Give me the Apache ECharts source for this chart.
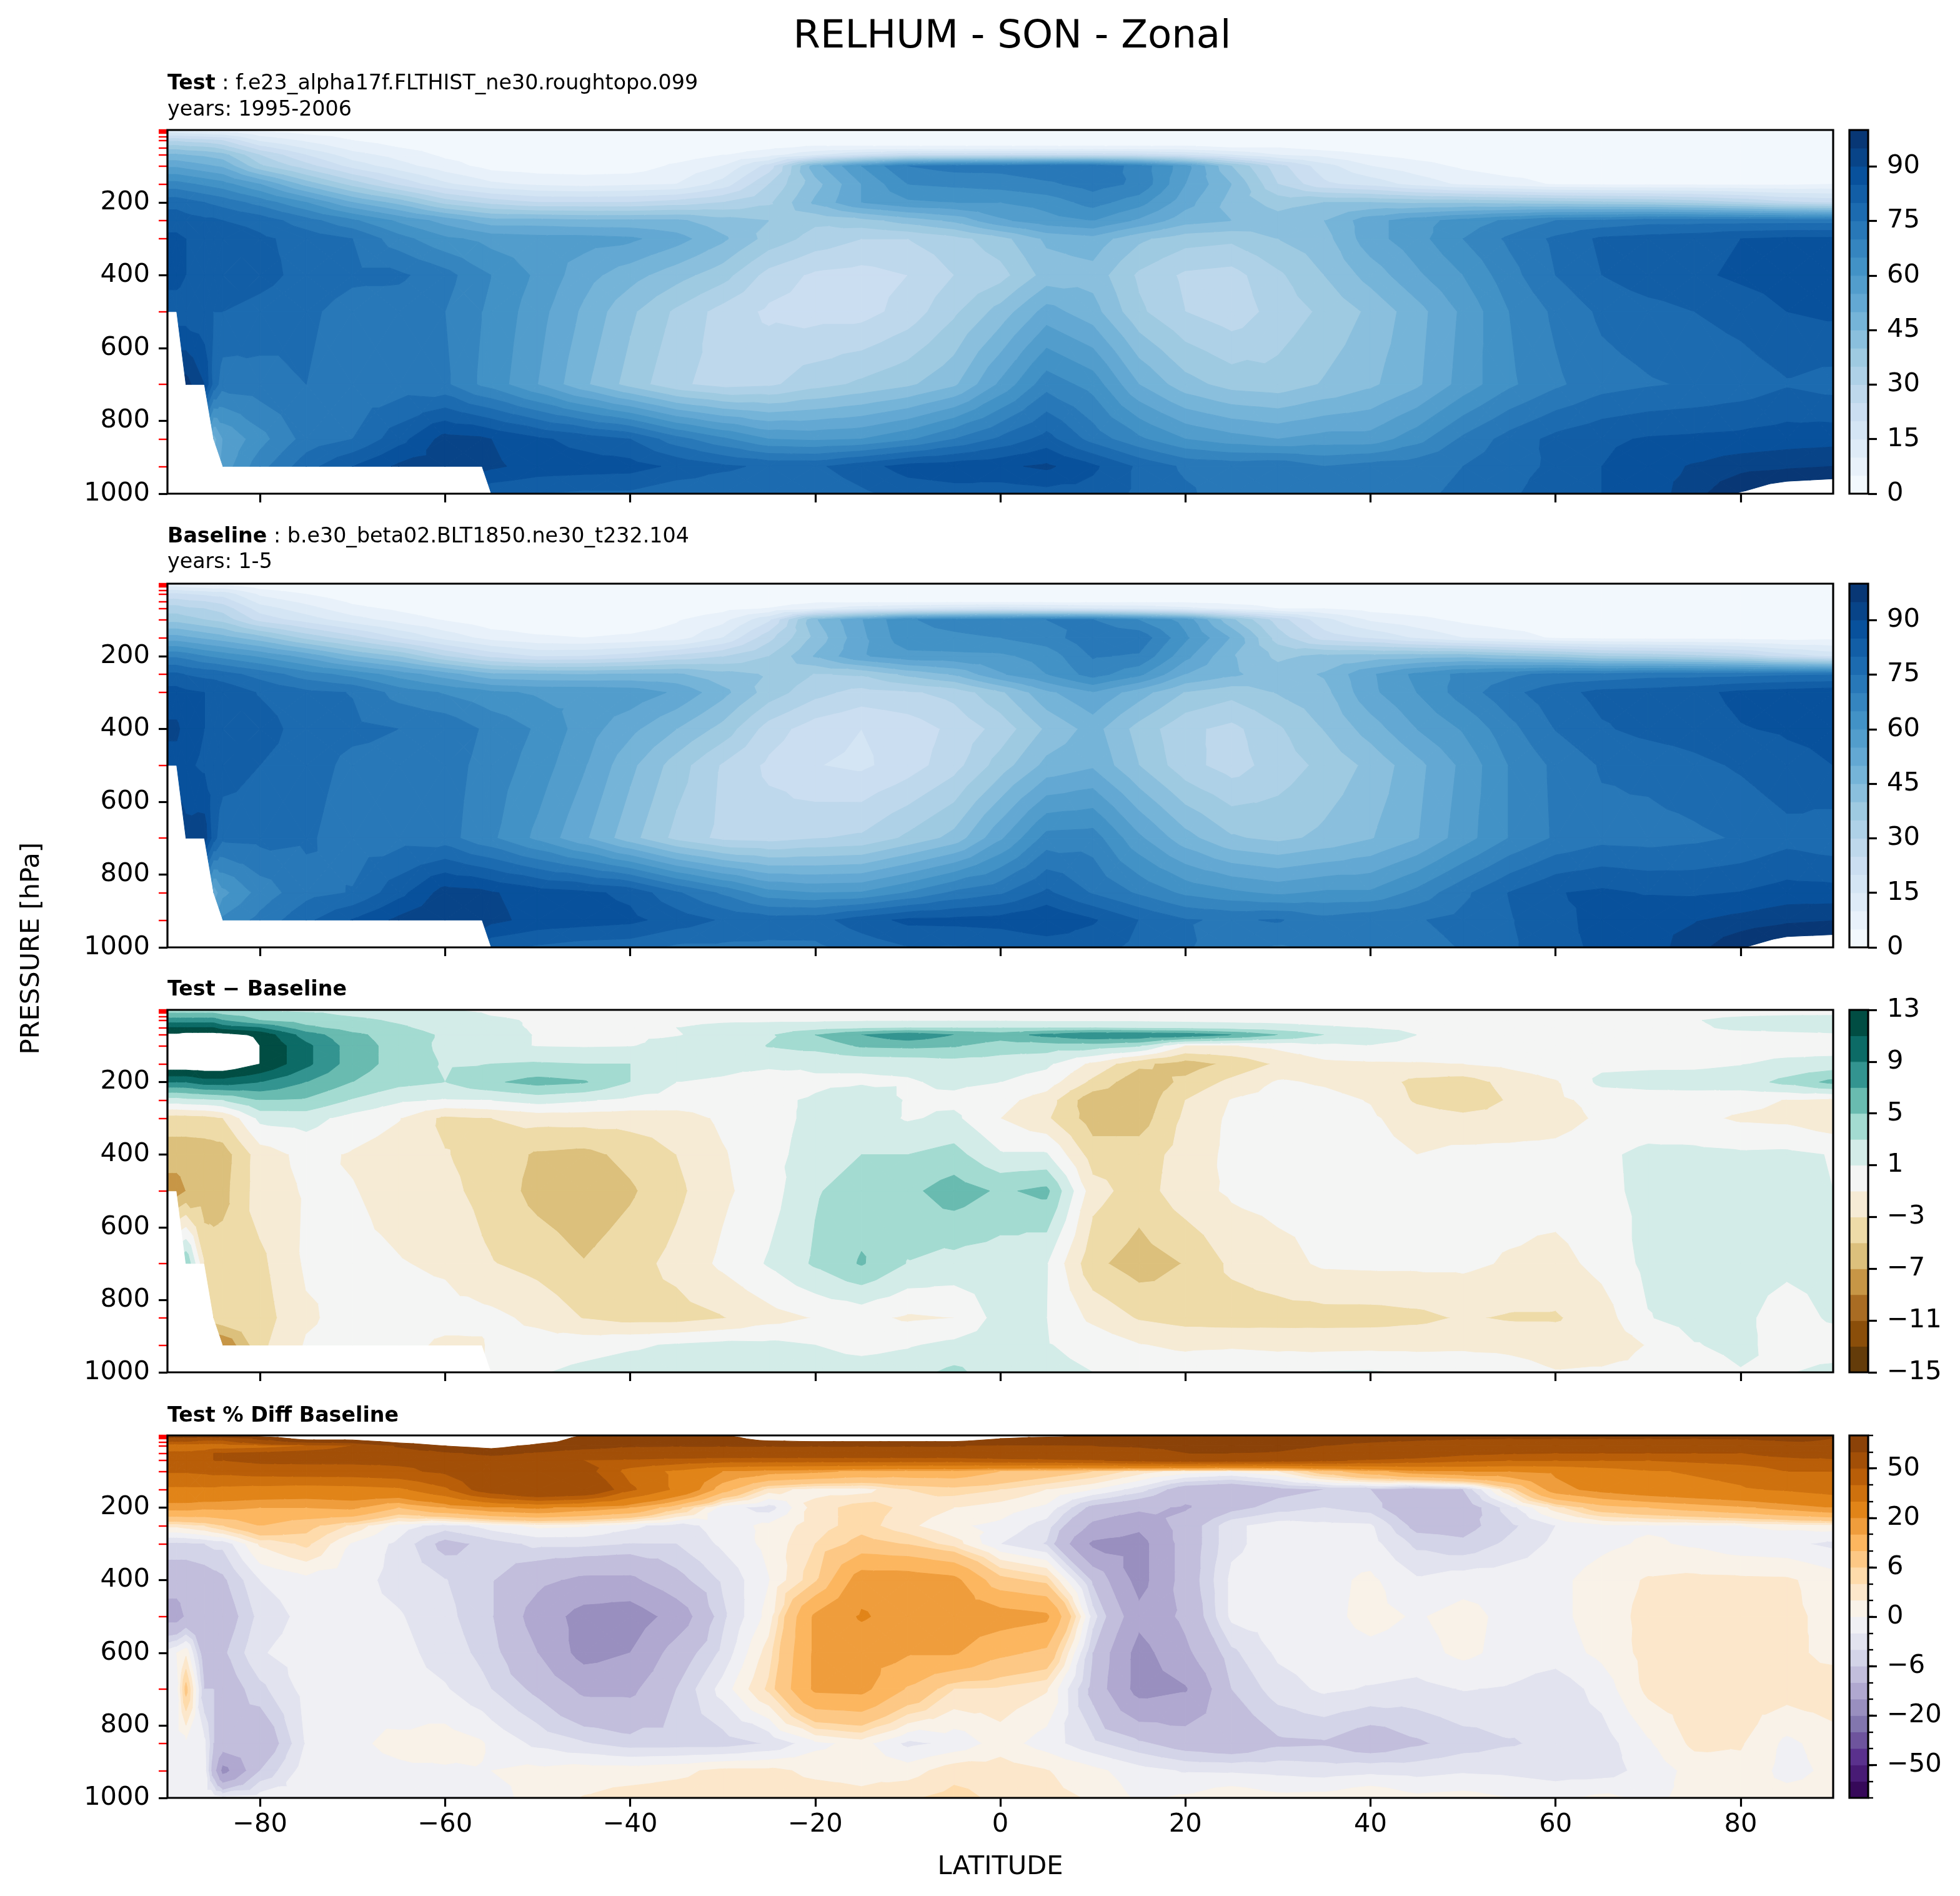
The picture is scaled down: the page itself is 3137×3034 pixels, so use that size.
<!DOCTYPE html>
<html><head><meta charset="utf-8">
<style>html,body{margin:0;padding:0;background:#fff}#c{width:3137px;height:3034px}</style>
<script src="https://cdn.jsdelivr.net/npm/echarts@6/dist/echarts.min.js"></script>
</head><body><div id="c"></div>
<script>
const n = null;
const lats = [-90,-89,-88,-86,-85,-84, -80,-75,-70,-65,-60,-56,-55, -50,-45,-40,-35,-30,-25,-20,-15,-10,-5,0, 5,10,15,20,25,30,35,40,45,50, 55,60,65,70,75,80,85,90];
const levels = [1,10,30,50,70,100,150,200,250,300,400,500,700,850,925,1000];
const pctPressures = [1,10,30,50,70,100,150,200,250,300,400,500,600,700,850,925,1000];
const redTicks = [1,2,3,5,7,10,20,30,50,70,100,150,250,300,500,700,850,925];
const latTicks = [-80,-60,-40,-20,0,20,40,60,80];
const pressureTicks = [200,400,600,800,1000];

const testRH = [
[6,6,6,5,5,5, 3,2,2,2,2,2,2, 2,2,2,2,2,2,2,2,2,2,2, 2,2,2,2,2,2,2,2,2,2, 2,2,2,2,2,2,2,2],
[15,15,14,13,12,12, 7,4,3,2,2,2,2, 2,2,2,2,2,2,2,2,2,2,2, 2,2,2,2,2,2,2,2,2,2, 2,2,2,2,2,2,2,2],
[29,29,28,27,26,25, 14,9,5,3,2,2,2, 2,2,2,2,2,2,2,2,2,2,2, 2,2,2,2,2,2,2,2,2,2, 2,2,2,2,2,2,2,2],
[38,38,37,36,35,33, 22,14,8,5,3,2,2, 2,2,2,2,2.5,4,6,6,6,6,6, 6,6,6,6,5,5,3,2,2,2, 2,2,2,2,2,2,2,2],
[46,46,45,44,43,42, 30,20,12,8,4,3,2, 1.5,1.5,1.5,2,5,8,14,20,24,24,24, 24,24,23,20,15,10,8,5,3,2, 2,2,2,2,2,2,2,2],
[54,54,53,51,50,49, 36,27,18,12,7,4,3, 2,2,2,6,10,22,48,60,70,72,72, 74,74,68,57,40,27,17,10,7,4, 2,2,2,2,2,2,2,2],
[67,67,66,64,63,62, 55,43,33,24,16,12,11, 9,8,9,10,17,30,43,55,65,66,67, 69,72,69,55,45,30,21,18,13,9, 7,4.5,4,4,4,4,4,5],
[78,78,77,75,74,73, 68,60,50,43,33,29,28, 25,25,25,27,30,34,46,55,59,60,60, 62,67,62,52,43,38,40,40,39,39, 38,37,36,35,33,30,26,24],
[83,83,82,81,81,80, 78,72,66,59,53,48,47, 47,46,46,46,42,40,36,38,42,46,54, 58,60,54,47,45,42,45,53,58,62, 66,70,71,73,73,73,73,73],
[86,86,85,84.5,84,84, 81,78,75,67,61,59,58, 57,57,56,52,46,38,33,30,30,33,38, 46,48,41,37,36,40,43,53,58,65, 71,76,81,82,83,85,86,86],
[87,87,85,84.5,84,84, 82,78,76,76,72,66,65, 59,52,47,42,37,28,24,23,25,30,33, 42,43,34,29,28,34,40,47,54,60, 68,75,80,83,84,86,87,87],
[82,82,82,81,80,80, 78,76,73,72,70,65,64, 57,49,41,34,28,24,23,23,27,34,42, 52,47,36,30,27,32,36,41,48,56, 65,71,76,78,80,82,85,86],
[n,n,97,90,78,72, 73,75,72,72,71,64,63, 55,46,38,31,28,29,33,36,39,44,56, 68,63,50,42,38,37,40.5,44,49,57, 64,69,73,74.5,75.5,77,79.5,78],
[n,n,n,n,48,55, 63,72,75,83,92,91,90, 86,83,80,72,66,60,59,60,64,70,76, 82,73,66,60,57,55,57,57,63,71, 77,81.5,84,85.5,86,86.5,87.5,88],
[n,n,n,n,n,57, 68,78,85,91,92,92,91, 88,87.5,87,84,81,79,79,83,87,88,89, 91,86,79,74,73,74,70,72,73,75, 78,81,85,88,90.5,93,94,95],
[n,n,n,n,n,n, n,n,n,n,n,n,81, 80,79,79,76,76,76,76,79,82,83,82, 83,83,79,76,72,70,72,73,74,76, 79,83,85,87,93,100.5,105,106]
];
const baseRH = [
[2,2,2,1,1,1.5, 1,1,1,1,1,1.5,1.5, 1.7,1.7,1.7,1.7,1.7,1.7,1.7,1.7,1.7,1.7,1.7, 1.7,1.7,1.7,1.7,1.7,1.7,1.7,1.7,1.7,1.7, 1.7,1.7,1.7,1.7,1.7,1.7,1.7,1.7],
[10,10,9,8,7,7.5, 3,1,1,1,1,1,1.2, 1.5,1.7,1.7,1.7,1.7,1.7,1.7,1.7,1.7,1.7,1.7, 1.7,1.7,1.7,1.7,1.7,1.7,1.7,1.7,1.7,1.7, 1.7,1.7,1.7,1.7,1.6,1.5,1.5,1.4],
[21,21,20,19,18,18, 9,5,1.5,1,1,1,1, 1.2,1.5,1.5,1.5,1.3,1.3,1.3,1.2,1.2,1.2,1.2, 1.3,1.3,1.3,1.4,1.5,1.5,1.6,1.7,1.7,1.7, 1.7,1.7,1.7,1.7,1.1,.5,.2,.1],
[27,27,26,25,24,23, 13,8.5,4,1.7,.8,.5,.5, 1.2,1.2,1.2,1,1,2.2,4,3.5,3.2,3.2,3.2, 3.2,3.2,3.5,3.7,3,3.4,1.8,1.1,1.4,1.6, 1.7,1.7,1.7,1.7,1.3,.6,.4,.2],
[32.5,32.5,31,30,29,28, 17.5,12,6.5,4,1.3,1.1,.3, .6,.7,.7,1.1,3.4,5.3,9,13,15.5,17,18, 16.4,15.2,14.2,11.6,8,5,5,3,2,1.4, 1.6,1.7,1.7,1.7,1.7,1.7,1.5,1.3],
[38,38,37,35,34,33, 23,17.5,12,7.8,4.5,2.2,1.4, 1.1,1.2,1.1,4.4,8.2,18.9,44.4,54.7,64.5,66.8,68, 70,70,64.8,58,41.1,27.5,16.5,9.1,6.5,3.7, 1.8,1.8,1.8,1.8,1.8,1.8,1.8,1.8],
[52,52,51,49,48,47, 42,33.5,27,19.8,13.2,9.1,8, 5.8,5,6,7.5,15,28.3,41.5,53.7,63.5,64,65, 67.6,73.5,73.5,61,49.5,32.7,22.5,19.3,14.2,10, 7.5,4.3,3.5,3.4,3.4,3.1,2.6,3.4],
[69,69,68,65,64,63, 59,53,45,39.4,30,24.5,23.3, 19.3,19.8,22,26,29.5,34.9,45.5,54.3,58.2,58.6,59, 62,70.5,69.3,56.5,45.5,38.8,41.2,41.8,42.6,43, 40.3,38.2,34.5,33.3,31.2,28,22.4,18.4],
[81,81,79.7,78.5,78.3,77, 73,67.3,63.2,57.7,52.2,47.1,46, 45.2,44.8,45.5,45.7,41.7,39.5,34.7,35.5,41.2,45.5,54.3, 60,67.2,61.2,50,45.9,42.3,45.5,54.1,61.3,66.4, 68.8,71.4,71.4,73,73,73.3,74.1,74.5],
[87,87,86,85,84,84, 79.5,76.2,74.8,67.9,64.5,62.1,61, 59.3,59.2,58.2,54.1,46.6,37.6,31.6,28,29.2,31.6,39, 48.7,54.5,47.2,39.6,36.6,40.3,43.3,53.7,60,67.4, 73.5,78,81.6,82.2,83.5,86.3,87.5,88.5],
[91,91,88,85,84,84, 83,77,76,75,74,69.6,68.8, 64.3,57.6,51.4,45,38.2,27.6,22.2,20,22,26.3,31.8, 40.8,47,38,31.2,28.5,34.2,40.2,47.3,55,60.5, 68.3,75.2,79.4,81.5,82.5,84.7,85.6,86.1],
[88,88,86,84,83,83, 80,76.8,73.9,73.7,72.5,68.5,67.8, 62.7,55.5,46.3,37.5,29.4,23.9,20.2,19,22.5,28,37.3, 46.5,49.2,40,31.8,27.7,32.3,36.3,41.3,48.3,56.2, 65.2,71.1,75.5,76.5,78.6,80.7,83.5,85],
[n,n,92,93,82,76, 76.5,75.7,72.6,72.9,72.3,66.7,65.9, 58.7,50.9,41.8,33.4,28.6,27.8,29.7,30.8,36.1,41.7,54.1, 66.9,67.5,56,46.9,40.6,38.7,41.2,44.6,49.6,57.6, 65.2,70.7,73.4,73,73.9,75.5,78.2,76.6],
[n,n,n,n,52,58.5, 67,73.3,75.3,83.2,92.3,91.4,90.5, 87.5,86.1,83.8,75.8,69.1,61.8,59.9,60.4,65.3,71,74.2, 81,74.5,69.2,63.8,61,58.9,60.8,60.8,66.5,73.8, 80.2,84.7,86,84.6,84.3,85.2,87.1,86.8],
[n,n,n,n,n,66, 71.5,78.8,85.3,91.3,93.4,93.3,91.4, 88.2,87.3,86.3,82.8,79.4,77.5,78,82.7,86.2,86.5,87.2, 89.9,85.6,79.9,75.4,74.3,75.5,71.7,73.6,74.6,76.5, 79.6,83,87.2,88.9,89.6,91.6,93.7,94.8],
[n,n,n,n,n,n, n,n,n,n,n,n,81.3, 79.2,77.5,77,74,74,74,74,77,79.8,79.5,80.2, 81.5,82,78.7,75.8,71.2,69.5,70.9,71.8,73.3,75.3, 79,83.9,85.7,87.5,92.8,99.6,104.1,104.6]
];
const diffRH = [
[4,4,4,4,4,3.5, 2.5,2,2,1.5,1.2,.6,.5, .3,.3,.3,.3,.3,.3,.3,.3,.3,.3,.3, .3,.3,.3,.3,.3,.3,.3,.3,.3,.3, .3,.3,.3,.3,.3,.3,.3,.3],
[5,5,5,5,5,4.5, 4,3.3,2.5,2,1.5,1,.8, .5,.3,.3,.3,.3,.3,.3,.3,.3,.3,.3, .3,.3,.3,.3,.3,.3,.3,.3,.3,.3, .3,.3,.3,.3,.4,.5,.6,.6],
[8,8,8,8,8,7, 5,4,3.5,2.7,2,1.4,1.3, .8,.5,.5,.5,.7,.7,.7,.8,.8,.8,.8, .7,.7,.7,.6,.5,.5,.4,.3,.3,.3, .3,.3,.3,.3,.9,1.5,1.8,1.9],
[11,11,11,11,11,10, 9,5.5,4,3.3,2.2,1.6,1.5, .8,.8,.8,1,1.5,1.8,2,2.5,2.8,2.8,2.8, 2.8,2.8,2.5,2.3,2,1.6,1.2,.9,.6,.4, .3,.3,.3,.3,.7,1.4,1.6,1.8],
[13.5,13.5,14,14,14,14, 12.5,8,5.5,4,2.7,1.9,1.7, .9,.8,.8,.9,1.6,2.7,5,7,8.5,7,6, 7.6,8.8,8.8,8.4,7,5,3,2,1,.6, .4,.3,.3,.3,.3,.3,.5,.7],
[16,16,16,16,16,16, 13,9.5,6,4.2,2.5,1.8,1.6, .9,.8,.9,1.6,1.8,3.1,3.6,5.3,5.5,5.2,4, 4,4,3.2,-1,-1.1,-.5,.5,.9,.5,.3, .2,.2,.2,.2,.2,.2,.2,.2],
[15,15,15,15,15,15, 13,9.5,6,4.2,2.8,2.9,3, 3.2,3,3,2.5,2,1.7,1.5,1.3,1.5,2,2, 1.4,-1.5,-4.5,-6,-4.5,-2.7,-1.5,-1.3,-1.2,-1, -.5,.2,.5,.6,.6,.9,1.4,1.6],
[9,9,9,10,10,10, 9,7,5,3.6,3,4.5,4.7, 5.7,5.2,3,1,.5,-.9,.5,.7,.8,1.4,1, 0,-3.5,-6.5,-4.5,-2.5,-.8,-1.2,-1.8,-3.6,-4, -2.3,-1.2,1.5,1.7,1.8,2,3.6,5.6],
[2,2,2.3,2.5,2.7,3, 5,4.7,2.8,1.3,.8,.9,1, 1.8,1.2,.5,.3,.3,.5,1.3,2.5,.8,.5,-.3, -2,-6.5,-6.5,-3,-.9,-.3,-.5,-1.1,-3.3,-4.4, -2.8,-1.4,-.4,0,0,-.3,-1.1,-1.5],
[-4,-4,-4,-3.8,-3.5,-3, 1.5,1.8,.2,-.9,-3.5,-3.1,-3, -2.3,-2.2,-2.2,-2.1,-.6,.4,1.4,2,.8,1.4,-1, -2.7,-6,-6,-2.6,-.6,-.3,-.3,-.7,-2,-2.4, -2.5,-2,-.6,-.2,-.5,-1.3,-1.5,-2.5],
[-6,-6,-6,-6,-6,-6, -2,-.4,-1.2,-2,-2.9,-3.6,-3.8, -5.3,-5.6,-4.4,-3,-1.2,.4,1.8,3,3,3.7,1.2, 1.2,-4,-4,-2.2,-.5,-.2,-.2,-.3,-1,-.5, -.3,-.2,.6,1.5,1.5,1.3,1.4,.9],
[-8,-8,-7,-6.6,-6,-5.7, -2,-.8,-.9,-1.7,-2.5,-3.5,-3.8, -5.7,-6.5,-5.3,-3.5,-1.4,.1,2.8,4,4.5,6,4.7, 5.5,-2.2,-4,-1.8,-.7,-.3,-.3,-.3,-.3,-.2, -.2,-.1,.5,1.5,1.4,1.3,1.5,1],
[n,n,5,-3,-4,-4, -3.5,-.7,-.6,-.9,-1.3,-2.7,-2.9, -3.7,-4.9,-3.8,-2.4,-.6,1.2,3.3,5.2,2.9,2.3,1.9, 1.1,-4.5,-6,-4.9,-2.6,-1.7,-.7,-.6,-.6,-.6, -1.2,-1.7,-.4,1.5,1.6,1.5,1.3,1.4],
[n,n,n,n,-4,-3.5, -4,-1.3,-.3,-.2,-.3,-.4,-.5, -1.5,-3.1,-3.8,-3.8,-3.1,-1.8,-.9,-.4,-1.3,-1,1.8, 1,-1.5,-3.2,-3.8,-4,-3.9,-3.8,-3.8,-3.5,-2.8, -3.2,-3.2,-2,.9,1.7,1.3,.4,1.2],
[n,n,n,n,n,-9, -3.5,-.8,-.3,-.3,-1.4,-1.3,-.4, -.2,.2,.7,1.2,1.6,1.5,1,.3,.8,1.5,1.8, 1.1,.4,-.9,-1.4,-1.3,-1.5,-1.7,-1.6,-1.6,-1.5, -1.6,-2,-2.2,-.9,.9,1.4,.3,.2],
[n,n,n,n,n,n, n,n,n,n,n,n,-.3, .8,1.5,2,2,2,2,2,2,2.2,3.5,1.8, 1.5,1,.3,.2,.8,.5,1.1,1.2,.7,.7, 0,-.9,-.7,-.5,.2,.9,.9,1.4]
];
const pctRH = [
[105,105,105,105,105,105, 110,120,130,140,160,170,170, 125,98,98,98,98,115,120,120,120,115,110, 110,98,96,95,95,102,102,102,98,98, 98,98,98,98,98,98,103,106],
[60,60,60,55,55,55, 80,110,110,130,140,150,150, 120,90,90,90,90,110,115,115,115,115,100, 90,88,85,85,85,85,82,80,78,76, 75,75,75,75,75,76,80,75],
[33,33,33,33,33,33, 35,40,50,78,100,108,110, 92,85,77,76,76,76,76,76,76,76,72, 73,75,77,80,80,78,75,70,66,62, 58,55,55,55,55,60,65,74],
[42,42,42,44,50,50, 52,55,57,60,70,80,82, 72,62,60,60,60,60,60,60,60,60,62, 64,64,66,75,75,74,70,64,60,53, 51,50,50,50,50,50,55,60],
[45,45,45,47,50,50, 52,52,52,52,52,58,60, 58,50,48,46,44,44,44,44,44,44,46, 47,49,53,55,55,54,52,48,45,42, 40,40,40,40,42,44,46,47],
[41,41,41,42,43,43, 45,46,46,48,52,59,60, 60,55,36,28,20,17,16,14,13,13,10, 8,6,3,1,0,2,8,13,18,20, 20,21,25,29,31,33,40,40],
[28,28,28,28,28,27, 26,25,26,28,38,55,58, 70,65,42,28,12,3,1,1,4,5,4, 2,0,-3,-8,-9,-7,-6,-6,-8,-6, 4,18,22,25,27,29,31,34],
[17,17,17,16,16,16, 15,15,16,10,15,18,19, 21,18,15,7,-1,-3,3,5,3.5,2,1, -.5,-7,-9,-10.5,-7,-5,-4,-5,-9,-8, -3,3,8,10,12,14,17,20],
[2.5,2.5,3,4,5,6, 10,7,3.5,-1,-3,-1.5,-1, .5,.2,-1.5,-3,-1,.5,3,5,2.5,.3,-.5, -3,-11,-14,-8,-2.5,-1,-1.5,-1.7,-7,-7, -4.5,-2,-.5,-.3,-.3,0,.5,1],
[-4.5,-4.5,-4.5,-4,-3.5,-3.5, 2.3,4.5,-.3,-2.5,-7,-5.5,-5, -3.5,-3.5,-4.1,-4,-1.6,.6,4,7,5.8,3,-2, -4.2,-16,-17,-8,-2.5,-1,-1,-1.2,-4.5,-5.5, -3.5,-1.5,-.5,.3,-.3,-1.2,-1.5,-2.5],
[-8,-8,-8,-7.5,-7,-6.5, -2,-.7,-1.2,-2.7,-3.9,-5.3,-5.8, -9,-11,-11,-7,-3.7,-.1,5.5,18,18,16.5,7, 5,-6.5,-17,-8,-1.5,-.8,-.6,.4,-1.7,-.8, -.7,-.6,1,2.2,2.5,2.4,2.3,1],
[-12,-12,-9.5,-9,-8.5,-8, -3.3,-1.3,-1.3,-1.8,-3.4,-5.2,-5.8, -12,-17,-18,-13,-4.5,.8,16,20.5,18,18,17.5, 16,-3,-13.5,-9,-1.5,-1,-.6,.6,-.2,.7, -.6,-.6,1,2.6,2.8,2.7,2.4,1.5],
[-1,0,1.5,-8,-8,-6.5, -2.2,-1,-.8,-1.3,-2.9,-4.5,-5, -10,-17,-15,-8,-3.5,3,16,17,15.5,15.5,11, 9,-6,-17,-11,-4.5,-1.6,-.8,-.5,-.8,.5, -.7,-1,.5,2.7,2.9,3,2.7,1.2],
[-1.5,-1,7,-6,-6,-8, -4.6,-1.2,-.3,-1.2,-1.8,-3.5,-4, -6.7,-11,-11,-6,-1.2,4.5,16,16.5,9.5,4,3.5, 2.2,-7,-17,-15.5,-6,-3,-1.6,-2.2,-2.6,-1.9, -2.2,-3.3,-1.2,2.5,3,3,3,3.5],
[-2,-1,-.5,-1.5,-6,-7, -9,-1.8,-.3,.4,1,.2,-.5, -2.5,-3.8,-5,-5,-5,-3.8,-.6,.8,-2.5,-1.5,1, -1,-3.5,-5.5,-7.5,-8.5,-6.5,-6.3,-8,-6.4,-5, -4.2,-3.5,-3,-.3,2.5,2.2,-.5,1],
[-1,-1,-1,-1,-8,-17, -6,-.8,-.5,-.3,-.3,-.1,0, .5,1,1,1.5,2.5,2.5,1.5,1.3,1,3.2,3, 2.1,.6,-1.2,-2.2,-2.3,-2.6,-3,-2.6,-2.8,-2.3, -2.5,-3,-3,-1.2,.7,1.4,-.7,.5],
[-1,-1,-1,-1,-1,-1.5, -1,-1,-1,-1,-1,-1,-.8, .8,2.1,2.8,3,3,3,3,2.5,3.7,4.7,3.5, 2.6,1.8,-.4,.3,1.7,.6,.8,2,.5,.8, 0,-.5,.5,-.5,.6,.8,.8,.8]
];

const rhLevels = [0,5,10,15,20,25,30,35,40,45,50,55,60,65,70,75,80,85,90,95,100];
const diffLevels = [-15,-13,-11,-9,-7,-5,-3,-1,1,3,5,7,9,11,13];
const pctLevels = [-100,-75,-50,-40,-30,-20,-15,-10,-6,-4,-2,0,2,4,6,10,15,20,30,40,50,75,100];
const rhTicks = [0,15,30,45,60,75,90];
const diffTicks = [-15,-11,-7,-3,1,5,9,13];
const pctTickLabels = [-50,-20,-6,0,6,20,50];

const bluesRamp = ['#f7fbff','#deebf7','#c6dbef','#9ecae1','#6baed6','#4292c6','#2171b5','#08519c','#08306b'];
const puorRamp = ['#2d004b','#542788','#8073ac','#b2abd2','#d8daeb','#f7f7f7','#fee0b6','#fdb863','#e08214','#b35806','#7f3b08'];
const diffColors = ['#643c0a','#8a4e0a','#a96c23','#c79646','#dcc07c','#eedba8','#f6ebd5','#f4f5f4','#d3ece8','#a3dbd1','#69bbb0','#339490','#0c6b66','#014d43'];

function ramp(list,t){
  const s=t*(list.length-1), i=Math.min(Math.floor(s),list.length-2), f=s-i;
  const a=list[i],b=list[i+1],c=k=>{
    const x=parseInt(a.substr(k,2),16),y=parseInt(b.substr(k,2),16);
    return Math.round(x+(y-x)*f).toString(16).padStart(2,'0');
  };
  return '#'+c(1)+c(3)+c(5);
}
const bandColors=(list,count)=>Array.from({length:count},(_,k)=>ramp(list,(k+.5)/count));
const rhColors=bandColors(bluesRamp,20), pctColors=bandColors(puorRamp,22);

const FONT='DejaVu Sans', TICK=41.6, SUB=33.3, LW=3.2, TL=14;
const panels=[
 {top:208,h:582,table:testRH,press:levels,lv:rhLevels,col:rhColors},
 {top:934,h:582,table:baseRH,press:levels,lv:rhLevels,col:rhColors},
 {top:1616,h:580,table:diffRH,press:levels,lv:diffLevels,col:diffColors},
 {top:2297,h:580,table:pctRH,press:pctPressures,lv:pctLevels,col:pctColors}
];
const minus=v=>String(v).replace('-','\u2212');
const plain=v=>String(v);

// clip polygon [x,y,v] to v>=lim (sign=1) or v<=lim (sign=-1)
function clipPoly(poly,lim,sign){
  const out=[];
  for(let i=0;i<poly.length;i++){
    const a=poly[i],b=poly[(i+1)%poly.length];
    const ina=sign*(a[2]-lim)>=0,inb=sign*(b[2]-lim)>=0;
    if(ina)out.push(a);
    if(ina!==inb){const t=(lim-a[2])/(b[2]-a[2]);out.push([a[0]+(b[0]-a[0])*t,a[1]+(b[1]-a[1])*t,lim]);}
  }
  return out;
}
function cellTriangles(c){ // c: corners tl,tr,br,bl, each [x,y,v] or null
  const ok=c.filter(Boolean);
  if(ok.length<3)return [];
  if(ok.length===3)return [ok];
  const m=[0,1,2].map(k=>(c[0][k]+c[1][k]+c[2][k]+c[3][k])/4);
  return [[c[0],c[1],m],[c[1],c[2],m],[c[2],c[3],m],[c[3],c[0],m]];
}
function contourRender(p){
  return function(params,api){
    const i=api.value(0),j=api.value(1);
    const corner=(a,b)=>{
      const v=p.table[b][a];
      if(v===null)return null;
      const q=api.coord([lats[a],p.press[b]]);
      return [q[0],q[1],v];
    };
    const tris=cellTriangles([corner(i,j),corner(i+1,j),corner(i+1,j+1),corner(i,j+1)]);
    const children=[];
    tris.forEach(tri=>{
      const lo=Math.min(tri[0][2],tri[1][2],tri[2][2]),hi=Math.max(tri[0][2],tri[1][2],tri[2][2]);
      for(let k=0;k<p.col.length;k++){
        if(p.lv[k+1]<lo||p.lv[k]>hi)continue;
        let poly=clipPoly(tri,p.lv[k],1);
        if(poly.length)poly=clipPoly(poly,p.lv[k+1],-1);
        if(poly.length<3)continue;
        children.push({type:'polygon',shape:{points:poly.map(q=>[q[0],q[1]])},
          style:{fill:p.col[k],stroke:p.col[k],lineWidth:1}});
      }
    });
    return {type:'group',children};
  };
}
const frame={type:'custom',data:[[0,0]],z:20,silent:true,clip:false,animation:false,
  renderItem:(params)=>{const s=params.coordSys;return {type:'rect',shape:{x:s.x,y:s.y,width:s.width,height:s.height},
    style:{fill:'none',stroke:'#000',lineWidth:LW}};}};

const noLine={show:false,onZero:false};
const grid=[],xAxis=[],yAxis=[],series=[];
panels.forEach((p,idx)=>{
  const cells=[];
  for(let i=0;i<lats.length-1;i++)for(let j=0;j<p.press.length-1;j++)cells.push([i,j]);
  grid.push({left:268,width:2666,top:p.top,height:p.h});
  const last=idx===3;
  xAxis.push({type:'value',gridIndex:idx,min:-90,max:90,z:5,splitLine:{show:false},
    axisLine:noLine,
    axisTick:{show:true,length:TL,lineStyle:{color:'#000',width:LW},customValues:latTicks},
    axisLabel:{show:last,customValues:latTicks,margin:22,fontFamily:FONT,fontSize:TICK,color:'#000',formatter:minus},
    name:last?'LATITUDE':'',nameLocation:'middle',nameGap:90,nameTextStyle:{fontFamily:FONT,fontSize:TICK,color:'#000'}});
  const yi=yAxis.length;
  yAxis.push({type:'value',gridIndex:idx,inverse:true,min:1,max:1000,z:5,splitLine:{show:false},axisLine:noLine,
    axisTick:{show:true,length:TL,lineStyle:{color:'#000',width:LW},customValues:pressureTicks},
    axisLabel:{show:true,customValues:pressureTicks,margin:28,padding:[18,0,0,0],fontFamily:FONT,fontSize:TICK,color:'#000',formatter:plain}});
  yAxis.push({type:'value',gridIndex:idx,inverse:true,min:1,max:1000,position:'left',z:5,splitLine:{show:false},axisLine:noLine,
    axisLabel:{show:false},
    axisTick:{show:true,length:TL,lineStyle:{color:'#ff0000',width:2.4},customValues:redTicks}});
  series.push({type:'custom',xAxisIndex:idx,yAxisIndex:yi,data:cells,encode:{x:0,y:1},clip:true,silent:true,animation:false,z:2,
    renderItem:contourRender(p)});
  series.push(Object.assign({},frame,{xAxisIndex:idx,yAxisIndex:yi}));
});
const bars=[
 {p:panels[0],min:0,max:100,lv:rhLevels,ticks:rhTicks,fmt:minus,top:208,h:582},
 {p:panels[1],min:0,max:100,lv:rhLevels,ticks:rhTicks,fmt:minus,top:934,h:582},
 {p:panels[2],min:-15,max:13,lv:diffLevels,ticks:diffTicks,fmt:minus,top:1616,h:580},
 {p:panels[3],min:0,max:22,lv:pctLevels.map((_,i)=>i),ticks:pctTickLabels.map(v=>pctLevels.indexOf(v)),fmt:v=>minus(pctLevels[v]),top:2297,h:580,minor:pctLevels.map((_,i)=>i)}
];
bars.forEach((b,c)=>{
  const gi=grid.length;
  grid.push({left:2960,width:30,top:b.top,height:b.h});
  const xi=xAxis.length;
  xAxis.push({type:'value',gridIndex:gi,min:0,max:1,show:false});
  const yi=yAxis.length;
  yAxis.push({type:'value',gridIndex:gi,position:'right',min:b.min,max:b.max,z:5,splitLine:{show:false},axisLine:noLine,
    axisTick:{show:true,length:TL,lineStyle:{color:'#000',width:LW},customValues:b.ticks},
    axisLabel:{show:true,customValues:b.ticks,margin:30,padding:[14,0,0,0],fontFamily:FONT,fontSize:TICK,color:'#000',formatter:b.fmt}});
  if(b.minor){
    yAxis.push({type:'value',gridIndex:gi,position:'right',min:b.min,max:b.max,z:5,splitLine:{show:false},axisLine:noLine,axisLabel:{show:false},
      axisTick:{show:true,length:8,lineStyle:{color:'#000',width:2.4},customValues:b.minor}});
  }
  const data=b.p.col.map((_,k)=>[k]);
  series.push({type:'custom',xAxisIndex:xi,yAxisIndex:yi,data,encode:{y:0},silent:true,animation:false,z:2,clip:true,
    renderItem:(params,api)=>{
      const k=api.value(0),a=api.coord([0,b.lv[k]]),z=api.coord([1,b.lv[k+1]]);
      return {type:'rect',shape:{x:a[0],y:z[1],width:z[0]-a[0],height:a[1]-z[1]},
        style:{fill:b.p.col[k],stroke:b.p.col[k],lineWidth:1}};
    }});
  series.push(Object.assign({},frame,{xAxisIndex:xi,yAxisIndex:yi}));
});
const rich={b:{fontFamily:FONT,fontSize:SUB,fontWeight:'bold',color:'#000'},t:{fontFamily:FONT,fontSize:SUB,color:'#000'}};
const sub=(text,left,top)=>({text,left,top,padding:0,textStyle:{fontFamily:FONT,fontSize:SUB,color:'#000',fontWeight:'normal',rich}});
const title=[
 {text:'RELHUM - SON - Zonal',left:1620,top:28,padding:0,textAlign:'center',textStyle:{fontFamily:FONT,fontSize:62.5,fontWeight:'normal',color:'#000'}},
 sub('{b|Test}{t| : f.e23_alpha17f.FLTHIST_ne30.roughtopo.099}',268,118),
 sub('years: 1995-2006',268,160),
 sub('{b|Baseline}{t| : b.e30_beta02.BLT1850.ne30_t232.104}',268,843),
 sub('years: 1-5',268,884),
 sub('{b|Test \u2212 Baseline}',268,1568),
 sub('{b|Test % Diff Baseline}',268,2250)
];
const chart=echarts.init(document.getElementById('c'),null,{renderer:'canvas',width:3137,height:3034});
chart.setOption({backgroundColor:'#fff',animation:false,title,grid,xAxis,yAxis,series,
  graphic:[{type:'text',left:30,top:1348,rotation:Math.PI/2,
    style:{text:'PRESSURE [hPa]',font:'41.6px "DejaVu Sans"',fill:'#000'}}]});
</script></body></html>
